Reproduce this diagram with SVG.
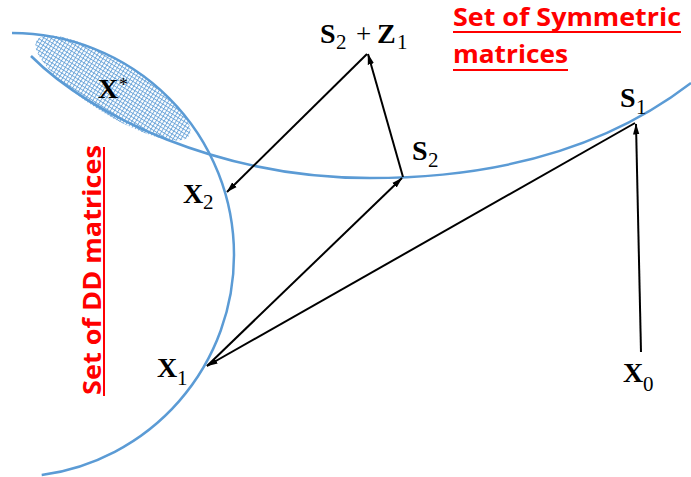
<svg xmlns="http://www.w3.org/2000/svg" width="691" height="477" viewBox="0 0 691 477">
<defs>
<style>
.set{fill:none;stroke:#5b9bd5;stroke-width:2.5}
.conn{stroke:#000;stroke-width:2;fill:none;marker-end:url(#ah)}
.m{font-family:"Liberation Serif",serif;font-weight:bold;font-size:28px;fill:#000}
.sub{font-family:"Liberation Serif",serif;font-size:21px;fill:#000}
.red{font-family:"Open Sans","Liberation Sans",sans-serif;font-weight:bold;font-size:25px;fill:#ff0000}
.ul{stroke:#ff0000;stroke-width:2}
</style>
<marker id="ah" markerUnits="userSpaceOnUse" markerWidth="11" markerHeight="8" refX="10.5" refY="4" orient="auto">
<path d="M0,0.8 L11,4 L0,7.2 z" fill="#000"/>
</marker>
<pattern id="hatch" patternUnits="userSpaceOnUse" width="3.4" height="3.4">
<path d="M0,0.5 H3.4 M0.5,0 V3.4" stroke="#5b9bd5" stroke-width="0.8"/>
</pattern>
</defs>
<rect width="691" height="477" fill="#fff"/>

<g id="dd-set">
<path class="set" d="M12,33 A222,222 0 0 1 234,255 A222,222 0 0 1 41.7,475"/>
</g>
<g id="sym-set">
<path class="set" d="M31,56 C91,116 220,178 370,178 C470,178 591,160 691,83"/>
</g>
<g id="xstar">
<ellipse cx="113" cy="88" rx="90" ry="26" transform="rotate(32 113 88)" fill="url(#hatch)"/>
<text class="m" x="98" y="98">X</text>
<text class="sub" x="119" y="91" style="font-size:18px">*</text>
</g>

<g id="connectors">
<line class="conn" x1="641" y1="352" x2="636" y2="124"/>
<line class="conn" x1="635" y1="123" x2="207" y2="366"/>
<line class="conn" x1="207" y1="366" x2="402" y2="178"/>
<line class="conn" x1="403" y1="177" x2="368" y2="54"/>
<line class="conn" x1="367" y1="54" x2="227" y2="192"/>
</g>

<g id="node-s2z1">
<text class="m" x="320" y="43">S</text>
<text class="sub" x="336" y="49">2</text>
<text class="sub" x="356" y="43" style="font-size:27px">+</text>
<text class="m" x="377" y="43">Z</text>
<text class="sub" x="397" y="49">1</text>
</g>
<g id="node-s2">
<text class="m" x="412" y="160">S</text>
<text class="sub" x="428" y="167">2</text>
</g>
<g id="node-s1">
<text class="m" x="620" y="107">S</text>
<text class="sub" x="636" y="114">1</text>
</g>
<g id="node-x0">
<text class="m" x="623" y="382">X</text>
<text class="sub" x="643" y="391">0</text>
</g>
<g id="node-x1">
<text class="m" x="157" y="377">X</text>
<text class="sub" x="177" y="385">1</text>
</g>
<g id="node-x2">
<text class="m" x="183" y="203">X</text>
<text class="sub" x="203" y="209">2</text>
</g>

<g id="label-sym">
<text class="red" x="453" y="25.5" textLength="228" lengthAdjust="spacingAndGlyphs">Set of Symmetric</text>
<line class="ul" x1="453" y1="32" x2="681" y2="32"/>
<text class="red" x="453" y="63" textLength="115" lengthAdjust="spacingAndGlyphs">matrices</text>
<line class="ul" x1="453" y1="70" x2="568" y2="70"/>
</g>
<g id="label-dd">
<text class="red" transform="translate(101,395) rotate(-90)" x="0" y="0" textLength="250" lengthAdjust="spacingAndGlyphs">Set of DD matrices</text>
<line class="ul" x1="104" y1="147" x2="104" y2="396"/>
</g>
</svg>
